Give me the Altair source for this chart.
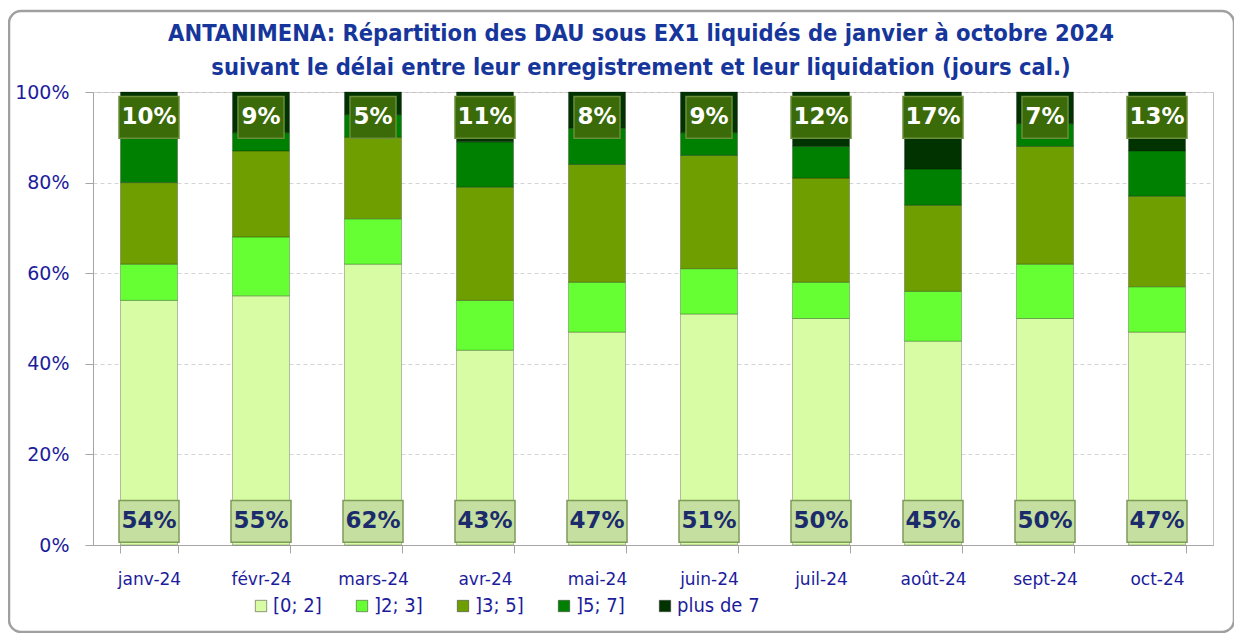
import altair as alt
import pandas as pd

months = ["janv-24", "févr-24", "mars-24", "avr-24", "mai-24", "juin-24",
          "juil-24", "août-24", "sept-24", "oct-24"]
series = ["[0; 2]", "]2; 3]", "]3; 5]", "]5; 7]", "plus de 7"]
s_0_2 = [54, 55, 62, 43, 47, 51, 50, 45, 50, 47]
s_2_3 = [8, 13, 10, 11, 11, 10, 8, 11, 12, 10]
s_3_5 = [18, 19, 18, 25, 26, 25, 23, 19, 26, 20]
s_5_7 = [10, 4, 5, 10, 8, 5, 7, 8, 5, 10]
s_7p = [10, 9, 5, 11, 8, 9, 12, 17, 7, 13]
colors = ["#D8FCA4", "#66FF33", "#6E9E00", "#008000", "#003300"]

cols = [s_0_2, s_2_3, s_3_5, s_5_7, s_7p]
rows = []
for si, (name, vals) in enumerate(zip(series, cols)):
    for m, v in zip(months, vals):
        rows.append({"mois": m, "serie": name, "ordre": si, "val": v})
df = pd.DataFrame(rows)

lab_bot = pd.DataFrame({"mois": months, "txt": [f"{v}%" for v in s_0_2]})
lab_top = pd.DataFrame({"mois": months, "txt": [f"{v}%" for v in s_7p]})

BLUE = "#1C1C9C"
xaxis = alt.Axis(tickBand="extent", tickSize=8, tickColor="#A6A6A6", domainColor="#A6A6A6",
                 labelFontSize=17, labelColor=BLUE, labelFont="DejaVu Sans",
                 labelPadding=18, labelAngle=0)
xenc = alt.X("mois:N", sort=months, title=None, axis=xaxis,
             scale=alt.Scale(paddingInner=0.49, paddingOuter=0.245))

bars = alt.Chart(df).mark_bar(size=57, stroke="#000000", strokeOpacity=0.25, strokeWidth=1).encode(
    x=xenc,
    y=alt.Y("val:Q", stack="zero", title=None,
            scale=alt.Scale(domain=[0, 100], nice=False),
            axis=alt.Axis(values=[0, 20, 40, 60, 80, 100], labelExpr="datum.value + '%'",
                          grid=True, gridDash=[4, 3], gridColor="#D4D4D4",
                          domainColor="#A6A6A6", tickColor="#A6A6A6", tickSize=8,
                          labelPadding=16, labelFontSize=19, labelColor=BLUE,
                          labelFont="DejaVu Sans")),
    color=alt.Color("serie:N", sort=series,
                    scale=alt.Scale(domain=series, range=colors),
                    legend=alt.Legend(title=None, orient="none", direction="horizontal",
                                      legendX=158, legendY=504, symbolType="square",
                                      symbolSize=130, symbolStrokeColor="#333333",
                                      symbolStrokeWidth=0.5,
                                      labelFontSize=20, labelColor=BLUE,
                                      labelFont="DejaVu Sans Condensed",
                                      columnPadding=30, labelOffset=2)),
    order=alt.Order("ordre:Q", sort="ascending"),
)

bot_box = alt.Chart(lab_bot).transform_calculate(
    w="length(datum.txt) * 14 + 18"
).mark_bar(fill="#C4DFA0", stroke="#7E9C5A", strokeWidth=1.5).encode(
    x=alt.X("mois:N", sort=months, axis=xaxis, title=None),
    y=alt.datum(0.6), y2=alt.datum(9.8),
    size=alt.Size("w:Q", scale=None, legend=None),
)
bot_txt = alt.Chart(lab_bot).mark_text(fontSize=23, fontWeight="bold", color="#1B2B6B",
                                        font="DejaVu Sans").encode(
    x=alt.X("mois:N", sort=months, axis=xaxis, title=None), y=alt.datum(5.2), text="txt:N")

top_box = alt.Chart(lab_top).transform_calculate(
    w="length(datum.txt) * 14 + 18"
).mark_bar(fill="#3B6A08", stroke="#6B8E3A", strokeWidth=1.5).encode(
    x=alt.X("mois:N", sort=months, axis=xaxis, title=None),
    y=alt.datum(89.8), y2=alt.datum(99.0),
    size=alt.Size("w:Q", scale=None, legend=None),
)
top_txt = alt.Chart(lab_top).mark_text(fontSize=23, fontWeight="bold", color="white",
                                        font="DejaVu Sans").encode(
    x=alt.X("mois:N", sort=months, axis=xaxis, title=None), y=alt.datum(94.4), text="txt:N")

frame = alt.Chart(pd.DataFrame({"a": [0]})).mark_rect(
    fillOpacity=0, stroke="#A0A0A0", strokeWidth=2.5, cornerRadius=12).encode(
    x=alt.value(-84), x2=alt.value(1141), y=alt.value(-81), y2=alt.value(540))

chart = alt.layer(frame, bars, bot_box, bot_txt, top_box, top_txt).resolve_scale(
    size="independent"
).properties(
    width=1120, height=453,
    autosize=alt.AutoSizeParams(type="none"),
    padding={"left": 85, "top": 84, "right": 21, "bottom": 88},
    title=alt.TitleParams(
        text=["ANTANIMENA: Répartition des DAU sous EX1 liquidés de janvier à octobre 2024",
              "suivant le délai entre leur enregistrement et leur liquidation (jours cal.)"],
        font="DejaVu Sans Condensed", fontSize=23.5, fontWeight="bold", color="#17369B",
        anchor="middle", lineHeight=34, offset=-70, dx=-12),
).configure_view(stroke="#BFBFBF")

chart.save("out.html", embed_options={"renderer": "svg", "actions": False})
